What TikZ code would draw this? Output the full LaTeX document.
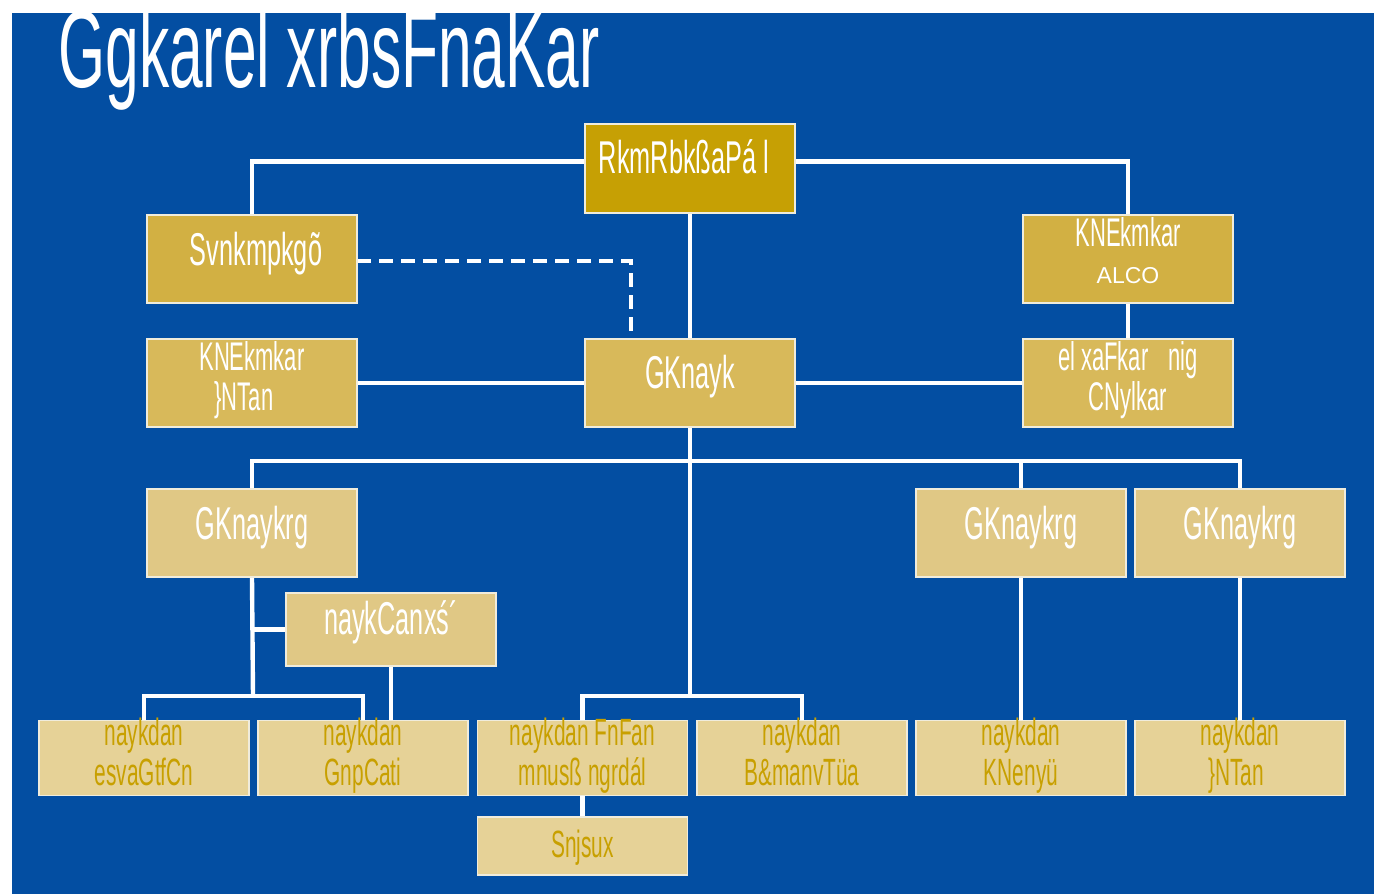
\documentclass[tikz,border=0pt]{standalone}
\usepackage{fontspec}
\usetikzlibrary{backgrounds,calc}
\newfontfamily\condfont[FakeStretch=0.55]{Liberation Sans}
\newfontfamily\plainfont{Liberation Sans}
\definecolor{bgblue}{RGB}{3,78,162}
\definecolor{gold1}{RGB}{198,160,4}
\definecolor{gold2}{RGB}{210,176,67}
\definecolor{gold3}{RGB}{216,185,90}
\definecolor{gold4}{RGB}{224,200,133}
\definecolor{gold5}{RGB}{230,210,151}
\definecolor{goldtext}{RGB}{200,160,0}
\definecolor{edgecol}{RGB}{240,236,220}
\tikzset{
  box/.style={draw=edgecol, line width=0.7pt, inner sep=0pt, outer sep=0pt,
    minimum width=105pt, minimum height=44pt},
  wide/.style={box, minimum height=44.5pt},
  lowbox/.style={box, minimum height=37.5pt},
  midbox/.style={box, minimum height=36.5pt},
  snjbox/.style={box, minimum height=29pt},
  conn/.style={draw=white, line width=2.2pt},
  dconn/.style={draw=white, line width=2.2pt, dash pattern=on 7pt off 4pt},
  wtxt/.style={text=white, font=\condfont\fontsize{23}{23}\selectfont, inner sep=0pt, anchor=base},
  wtxtb/.style={text=white, font=\condfont\fontsize{20}{20}\selectfont, inner sep=0pt, anchor=base},
  gtxt/.style={text=goldtext, font=\condfont\fontsize{19}{19}\selectfont, inner sep=0pt, anchor=base},
}
\begin{document}
\begin{tikzpicture}[x=0.5pt,y=-0.5pt]
\useasboundingbox (0,0) rectangle (1386,894);
% boxes
\node[wide, fill=gold1] (top) at (690,168.5) {};
\node[box, fill=gold2] (svn) at (252,259) {};
\node[box, fill=gold2] (kneA) at (1128,259) {};
\node[box, fill=gold3] (kne2) at (252,383) {};
\node[box, fill=gold3] (gk) at (690,383) {};
\node[box, fill=gold3] (elxa) at (1128,383) {};
\node[box, fill=gold4] (gkr1) at (252,533) {};
\node[box, fill=gold4] (gkr2) at (1021,533) {};
\node[box, fill=gold4] (gkr3) at (1240,533) {};
\node[midbox, fill=gold4] (canx) at (391,629.5) {};
\node[lowbox, fill=gold5] (b1) at (144,758) {};
\node[lowbox, fill=gold5] (b2) at (363,758) {};
\node[lowbox, fill=gold5] (b3) at (582.5,758) {};
\node[lowbox, fill=gold5] (b4) at (802,758) {};
\node[lowbox, fill=gold5] (b5) at (1021,758) {};
\node[lowbox, fill=gold5] (b6) at (1240,758) {};
\node[snjbox, fill=gold5] (snj) at (582.5,846) {};
\coordinate (j1) at (690,461);
\coordinate (j2) at (690,696);
\coordinate (j3) at (253,696);
\begin{pgfonlayer}{background}
\fill[white] (0,0) rectangle (1386,894);
\fill[bgblue] (12,13) rectangle (1374,894);
\draw[conn] ([yshift=3.5pt]top.west) -| (svn.north);
\draw[conn] ([yshift=3.5pt]top.east) -| (kneA.north);
\draw[conn] (top.south) -- (gk.north);
\draw[dconn] ([yshift=-1pt]svn.east) -| ([xshift=-29.5pt]gk.north);
\draw[conn] (kneA.south) -- (elxa.north);
\draw[conn] (kne2.east) -- (gk.west);
\draw[conn] (gk.east) -- (elxa.west);
\draw[conn] (gk.south) -- (j2);
\draw[conn] (gkr1.north) |- (j1) -| (gkr3.north);
\draw[conn] (gkr2.north) -- (gkr2.north |- j1);
\draw[conn] (b3.north) |- (j2) -| (b4.north);
\draw[conn] (gkr1.south) -- (j3);
\draw[conn] (canx.west) -- (canx.west -| j3);
\draw[conn] (b1.north) |- (j3) -| (b2.north);
\draw[conn] (canx.south) -- (canx.south |- b2.north);
\draw[conn] (gkr2.south) -- (b5.north);
\draw[conn] (gkr3.south) -- (b6.north);
\draw[conn] (b3.south) -- (snj.north);
\end{pgfonlayer}
% title
\node[text=white, font=\condfont\fontsize{55}{55}\selectfont, inner sep=0pt, anchor=base west] (title) at (58,87) {Ggkarel xrbsFnaKar};
% texts
\node[wtxt] (ttop) at (684,173) {RkmRbkßaPá l};
\node[wtxt] (tsvn) at (256,265) {Svnkmpkgõ};
\node[wtxtb] (tkneA) at (1128,246) {KNEkmkar};
\node[text=white, font=\plainfont\fontsize{11.5}{11.5}\selectfont, inner sep=0pt, anchor=base] (talco) at (1128,283) {ALCO};
\node[wtxtb] (tkne2a) at (252,370) {KNEkmkar};
\node[wtxtb] (tkne2b) at (244,410) {\}NTan};
\node[wtxt] (tgk) at (690,388) {GKnayk};
\node[wtxtb] (telxaa) at (1128,370) {el xaFkar\enspace nig};
\node[wtxtb] (telxab) at (1128,410) {CNylkar};
\node[wtxt] (tgkr1) at (252,539) {GKnaykrg};
\node[wtxt] (tgkr2) at (1021,539) {GKnaykrg};
\node[wtxt] (tgkr3) at (1240,539) {GKnaykrg};
\node[wtxt] (tcanx) at (391,634) {naykCanxś´};
\node[gtxt] (tb1a) at (144,745) {naykdan};
\node[gtxt] (tb1b) at (144,785) {esvaGtfCn};
\node[gtxt] (tb2a) at (363,745) {naykdan};
\node[gtxt] (tb2b) at (363,785) {GnpCati};
\node[gtxt] (tb3a) at (582.5,745) {naykdan FnFan};
\node[gtxt] (tb3b) at (582.5,785) {mnusß ngrdál};
\node[gtxt] (tb4a) at (802,745) {naykdan};
\node[gtxt] (tb4b) at (802,785) {B\&manvTüa};
\node[gtxt] (tb5a) at (1021,745) {naykdan};
\node[gtxt] (tb5b) at (1021,785) {KNenyü};
\node[gtxt] (tb6a) at (1240,745) {naykdan};
\node[gtxt] (tb6b) at (1236,785) {\}NTan};
\node[gtxt] (tsnj) at (582.5,857) {Snjsux};
\end{tikzpicture}
\end{document}
